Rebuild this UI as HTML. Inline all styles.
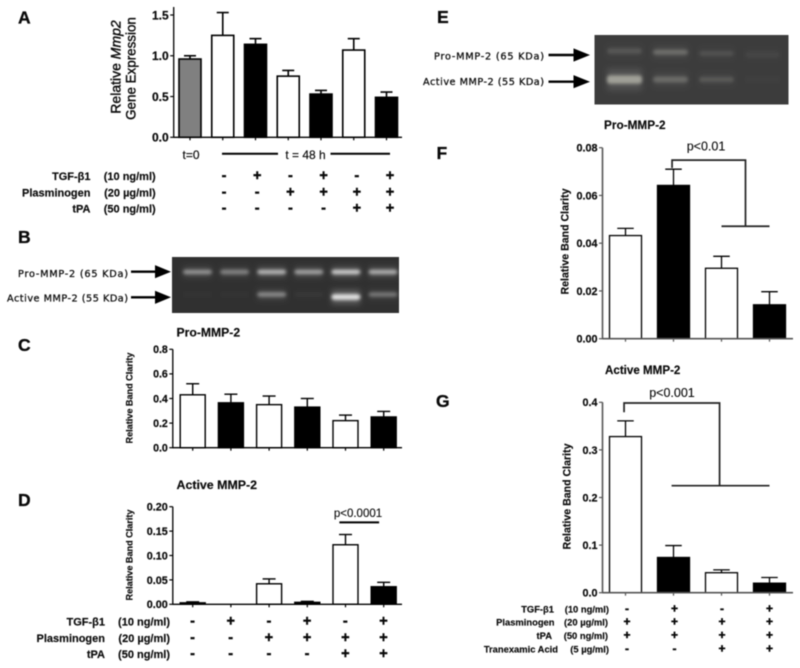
<!DOCTYPE html>
<html lang="en">
<head>
<meta charset="utf-8">
<title>MMP-2 figure panels A–G</title>
<style>
html,body{margin:0;padding:0;background:#fff;}
body{width:800px;height:668px;overflow:hidden;}
svg{display:block;filter:blur(0.4px);}
text{font-family:"Liberation Sans",sans-serif;fill:#0a0a0a;}
.b{font-weight:bold;stroke:#0a0a0a;stroke-width:0.15;}
.panel{font-weight:bold;font-size:17.5px;stroke:#000;stroke-width:0.3;}
.blot{font-family:"DejaVu Sans","Liberation Sans",sans-serif;font-size:9.7px;fill:#111;stroke:#111;stroke-width:0.3;}
</style>
</head>
<body>
<svg id="fig" width="800" height="668" viewBox="0 0 800 668" xmlns="http://www.w3.org/2000/svg">
<defs>
<filter id="soft" x="-30%" y="-150%" width="160%" height="400%"><feGaussianBlur stdDeviation="1.5"/></filter>
<filter id="softer" x="-30%" y="-150%" width="160%" height="400%"><feGaussianBlur stdDeviation="3"/></filter>
<clipPath id="clipB"><rect x="172" y="257" width="227" height="56"/></clipPath>
<clipPath id="clipE"><rect x="594.5" y="35" width="194" height="69.5"/></clipPath>
</defs>

<text class="panel" x="18" y="23.5">A</text>
<text class="panel" x="18" y="243">B</text>
<text class="panel" x="18" y="351">C</text>
<text class="panel" x="18" y="506">D</text>
<text class="panel" x="437" y="23">E</text>
<text class="panel" x="436.5" y="159">F</text>
<text class="panel" x="436" y="407">G</text>

<text class="b" x="176.5" y="336.5" font-size="12.2">Pro-MMP-2</text>
<text class="b" x="176.5" y="489" font-size="12.4">Active MMP-2</text>
<text class="b" x="604" y="129" font-size="11.8">Pro-MMP-2</text>
<text class="b" x="605" y="374" font-size="11.6">Active MMP-2</text>

<text transform="translate(120.5 67) rotate(-90)" text-anchor="middle" font-size="14" stroke="#0a0a0a" stroke-width="0.4">Relative <tspan font-style="italic">Mmp2</tspan></text>
<text transform="translate(135.5 68.5) rotate(-90)" text-anchor="middle" font-size="13.4" stroke="#0a0a0a" stroke-width="0.4">Gene Expression</text>
<text class="b" transform="translate(132.5 398) rotate(-90)" text-anchor="middle" font-size="9.1">Relative Band Clarity</text>
<text class="b" transform="translate(132.5 555) rotate(-90)" text-anchor="middle" font-size="9.1">Relative Band Clarity</text>
<text class="b" transform="translate(568.5 241.5) rotate(-90)" text-anchor="middle" font-size="10.6">Relative Band Clarity</text>
<text class="b" transform="translate(570.5 496.5) rotate(-90)" text-anchor="middle" font-size="10.6">Relative Band Clarity</text>

<text x="191" y="159" text-anchor="middle" font-size="12" stroke="#0a0a0a" stroke-width="0.15">t=0</text>
<line x1="222" y1="153.7" x2="278" y2="153.7" stroke="#000" stroke-width="2"/>
<text x="305.5" y="159" text-anchor="middle" font-size="12" stroke="#0a0a0a" stroke-width="0.15">t = 48 h</text>
<line x1="330.5" y1="153.7" x2="390" y2="153.7" stroke="#000" stroke-width="2"/>

<text class="blot" x="128" y="277" text-anchor="end" textLength="110">Pro-MMP-2 (65 KDa)</text>
<text class="blot" x="128" y="301.5" text-anchor="end" textLength="121">Active MMP-2 (55 KDa)</text>
<text class="blot" x="544" y="59.5" text-anchor="end" textLength="110">Pro-MMP-2 (65 KDa)</text>
<text class="blot" x="544" y="85" text-anchor="end" textLength="121">Active MMP-2 (55 KDa)</text>

<g id="arrows"></g>
<g id="blotB" clip-path="url(#clipB)"></g>
<g id="blotE" clip-path="url(#clipE)"></g>
<g id="charts"></g>
<g id="tables"></g>
</svg>

<script>
// ---------- Chart data ----------
const aCategories = ['t0', 'ctrl', 'tgf', 'plg', 'tgf-plg', 'plg-tpa', 'tgf-plg-tpa'];
const aValues = [0.96, 1.25, 1.14, 0.75, 0.53, 1.07, 0.49];
const aErrors = [0.04, 0.28, 0.07, 0.07, 0.045, 0.14, 0.065];
const aTicks = [0, 0.5, 1.0, 1.5];
const aTickLabels = ['0.0', '0.5', '1.0', '1.5'];

const cCategories = ['ctrl', 'tgf', 'plg', 'tgf-plg', 'plg-tpa', 'tgf-plg-tpa'];
const cValues = [0.43, 0.365, 0.35, 0.33, 0.22, 0.25];
const cErrors = [0.09, 0.07, 0.07, 0.07, 0.045, 0.045];
const cTicks = [0, 0.2, 0.4, 0.6, 0.8];
const cTickLabels = ['0.0', '0.2', '0.4', '0.6', '0.8'];

const dCategories = ['ctrl', 'tgf', 'plg', 'tgf-plg', 'plg-tpa', 'tgf-plg-tpa'];
const dValues = [0.003, 0, 0.042, 0.004, 0.122, 0.036];
const dErrors = [0.002, 0, 0.010, 0.002, 0.021, 0.009];
const dTicks = [0, 0.05, 0.10, 0.15, 0.20];
const dTickLabels = ['0.00', '0.05', '0.10', '0.15', '0.20'];

const fCategories = ['plg-tpa', 'tgf-plg-tpa', 'plg-tpa-txa', 'tgf-plg-tpa-txa'];
const fValues = [0.0432, 0.0642, 0.0295, 0.0142];
const fErrors = [0.003, 0.0068, 0.005, 0.0055];
const fTicks = [0, 0.02, 0.04, 0.06, 0.08];
const fTickLabels = ['0.00', '0.02', '0.04', '0.06', '0.08'];

const gCategories = ['plg-tpa', 'tgf-plg-tpa', 'plg-tpa-txa', 'tgf-plg-tpa-txa'];
const gValues = [0.328, 0.074, 0.042, 0.02];
const gErrors = [0.033, 0.025, 0.006, 0.012];
const gTicks = [0, 0.1, 0.2, 0.3, 0.4];
const gTickLabels = ['0.0', '0.1', '0.2', '0.3', '0.4'];

// Condition tables (+ / -)
const aTgfRow = ['-', '+', '-', '+', '-', '+'];
const aPlgRow = ['-', '-', '+', '+', '+', '+'];
const aTpaRow = ['-', '-', '-', '-', '+', '+'];
const gTgfRow = ['-', '+', '-', '+'];
const gPlgRow = ['+', '+', '+', '+'];
const gTpaRow = ['+', '+', '+', '+'];
const gTxaRow = ['-', '-', '+', '+'];

// Gel band intensities per lane (0..1)
const blotBProBands = [0.5, 0.42, 0.7, 0.58, 0.85, 0.66];
const blotBActiveBands = [0.02, 0.02, 0.45, 0.04, 1.0, 0.36];
const blotEProBands = [0.22, 0.42, 0.16, 0.08];
const blotEActiveBands = [0.9, 0.38, 0.24, 0.03];

// ---------- Helpers ----------
const NS = 'http://www.w3.org/2000/svg';
function make(tag, parent, attrs, txt) {
  const el = document.createElementNS(NS, tag);
  for (const k in attrs) el.setAttribute(k, attrs[k]);
  if (txt !== undefined) el.textContent = txt;
  parent.appendChild(el);
  return el;
}
const chartsRoot = document.getElementById('charts');
const tablesRoot = document.getElementById('tables');
const arrowsRoot = document.getElementById('arrows');

function drawChart(id, categories, values, errors, ticks, tickLabels, cfg) {
  const g = make('g', chartsRoot, {});
  
  
  const yScale = v => cfg.y0 - (v / cfg.yMax) * (cfg.y0 - cfg.yTop);
  const xScale = i => cfg.first + i * cfg.step;

  values.forEach(function (v, i) {
    const cx = xScale(i);
    const top = yScale(v);
    const whiskerTop = yScale(v + errors[i]);
    if (errors[i] > 0) {
      const stem = make('line', g, {x1: cx, x2: cx, y1: top, y2: whiskerTop, stroke: '#000', 'stroke-width': cfg.sw});
      
      
      const cap = make('line', g, {x1: cx - cfg.cap / 2, x2: cx + cfg.cap / 2, y1: whiskerTop, y2: whiskerTop, stroke: '#000', 'stroke-width': cfg.sw});
      
      
    }
    const fill = cfg.fill(i);
    const bar = make('rect', g, {x: cx - cfg.bw / 2, y: top, width: cfg.bw, height: Math.max(0, cfg.y0 - top), fill: fill, stroke: '#000', 'stroke-width': cfg.sw});
    
    
    const tick = make('line', g, {x1: cx, x2: cx, y1: cfg.y0, y2: cfg.y0 + 3, stroke: cfg.axis, 'stroke-width': 1.2});
    
    
  });

  const yAxis = make('line', g, {x1: cfg.x0, x2: cfg.x0, y1: cfg.yTop - cfg.over, y2: cfg.y0 + 0.6, stroke: cfg.axis, 'stroke-width': cfg.axisW});
  
  
  const xAxis = make('line', g, {x1: cfg.x0, x2: cfg.xEnd, y1: cfg.y0, y2: cfg.y0, stroke: cfg.axis, 'stroke-width': cfg.axisW});
  
  

  ticks.forEach(function (t, i) {
    const y = yScale(t);
    const tick = make('line', g, {x1: cfg.x0 - 3.5, x2: cfg.x0, y1: y, y2: y, stroke: cfg.axis, 'stroke-width': 1.2});
    
    
    const lbl = make('text', g, {x: cfg.x0 - 5, y: y + cfg.font * 0.36, 'text-anchor': 'end', 'font-size': cfg.font, 'font-weight': 'bold', stroke: '#0a0a0a', 'stroke-width': 0.2}, tickLabels[i]);
    
    
  });

  return {g: g, xScale: xScale, yScale: yScale};
}

function blackOdd(i) { return i % 2 === 0 ? '#fff' : '#000'; }

// ---------- Panel A ----------
drawChart('a', aCategories, aValues, aErrors, aTicks, aTickLabels, {
  x0: 173.7, xEnd: 402, y0: 137.3, yTop: 15, yMax: 1.5, over: 8, first: 190, step: 32.75, bw: 22, cap: 12,
  sw: 1.6, axis: '#000', axisW: 1.3, font: 12,
  fill: function (i) { return i === 0 ? '#808080' : (i % 2 === 1 ? '#fff' : '#000'); }
});

// ---------- Panel C ----------
drawChart('c', cCategories, cValues, cErrors, cTicks, cTickLabels, {
  x0: 172.8, xEnd: 402, y0: 447.7, yTop: 349.3, yMax: 0.8, over: 0, first: 192.7, step: 38.2, bw: 25, cap: 13,
  sw: 1.4, axis: '#000', axisW: 1.3, font: 10.6, fill: blackOdd
});

// ---------- Panel D ----------
const chartD = drawChart('d', dCategories, dValues, dErrors, dTicks, dTickLabels, {
  x0: 172.8, xEnd: 402, y0: 604.3, yTop: 506.7, yMax: 0.2, over: 0, first: 192.7, step: 38.2, bw: 25, cap: 13,
  sw: 1.4, axis: '#000', axisW: 1.3, font: 10.8, fill: blackOdd
});
const sigD = make('line', chartD.g, {x1: chartD.xScale(3.84), x2: chartD.xScale(4.88), y1: chartD.yScale(0.168), y2: chartD.yScale(0.168), stroke: '#000', 'stroke-width': 2});


const sigDText = make('text', chartD.g, {x: 358, y: 517, 'text-anchor': 'middle', 'font-size': 11.5, stroke: '#0a0a0a', 'stroke-width': 0.12}, 'p<0.0001');



// ---------- Panel F ----------
const chartF = drawChart('f', fCategories, fValues, fErrors, fTicks, fTickLabels, {
  x0: 602.5, xEnd: 793, y0: 338.7, yTop: 147.7, yMax: 0.08, over: 0, first: 625.5, step: 48, bw: 32, cap: 16.5,
  sw: 1.3, axis: '#555', axisW: 1.6, font: 10.8, fill: blackOdd
});
function bracketPath(c, pts) {
  return pts.map(function (p, i) { return (i ? 'L' : 'M') + c.xScale(p[0]) + ' ' + c.yScale(p[1]); }).join(' ');
}
const bracketF = make('path', chartF.g, {d: bracketPath(chartF, [[0.97, 0.0715], [0.97, 0.0748], [2.5, 0.0748], [2.5, 0.0471]]), fill: 'none', stroke: '#222', 'stroke-width': 1.7});


const baseF = make('line', chartF.g, {x1: chartF.xScale(2), x2: chartF.xScale(3), y1: chartF.yScale(0.0471), y2: chartF.yScale(0.0471), stroke: '#222', 'stroke-width': 1.7});


const sigFText = make('text', chartF.g, {x: 706, y: 150.5, 'text-anchor': 'middle', 'font-size': 12.5, stroke: '#0a0a0a', 'stroke-width': 0.12}, 'p<0.01');



// ---------- Panel G ----------
const chartG = drawChart('g', gCategories, gValues, gErrors, gTicks, gTickLabels, {
  x0: 602.5, xEnd: 793, y0: 592.7, yTop: 402.3, yMax: 0.4, over: 0, first: 625.5, step: 48, bw: 32, cap: 16.5,
  sw: 1.3, axis: '#555', axisW: 1.6, font: 10.8, fill: blackOdd
});
const bracketG = make('path', chartG.g, {d: bracketPath(chartG, [[-0.03, 0.379], [-0.03, 0.3985], [1.96, 0.3985], [1.96, 0.2248]]), fill: 'none', stroke: '#222', 'stroke-width': 1.7});


const baseG = make('line', chartG.g, {x1: chartG.xScale(0.96), x2: chartG.xScale(3), y1: chartG.yScale(0.2248), y2: chartG.yScale(0.2248), stroke: '#222', 'stroke-width': 1.7});


const sigGText = make('text', chartG.g, {x: 672, y: 397, 'text-anchor': 'middle', 'font-size': 12.5, stroke: '#0a0a0a', 'stroke-width': 0.12}, 'p<0.001');



// ---------- Condition tables ----------
function drawSignRow(id, name, dose, signs, cfg) {
  const nameEl = make('text', tablesRoot, {x: cfg.nameX, y: cfg.y, 'text-anchor': 'end', 'font-size': cfg.font, 'font-weight': 'bold', stroke: '#0a0a0a', 'stroke-width': 0.15}, name);
  
  
  const doseEl = make('text', tablesRoot, {x: cfg.doseX, y: cfg.y, 'text-anchor': 'end', 'font-size': cfg.font, 'font-weight': 'bold', stroke: '#0a0a0a', 'stroke-width': 0.15}, dose);
  
  
  signs.forEach(function (s, i) {
    const el = make('text', tablesRoot, {x: cfg.first + i * cfg.step, y: cfg.y + cfg.signDy, 'text-anchor': 'middle', 'font-size': cfg.signFont, 'font-weight': 'bold', stroke: '#000', 'stroke-width': 0.4}, s);
    
    
  });
}
const aTable = {nameX: 90.5, doseX: 155.7, font: 11, first: 224, step: 33.2, signFont: 14.5, signDy: 0};
drawSignRow('a-tgf', 'TGF-β1', '(10 ng/ml)', aTgfRow, Object.assign({y: 180}, aTable));
drawSignRow('a-plg', 'Plasminogen', '(20 µg/ml)', aPlgRow, Object.assign({y: 196.5}, aTable));
drawSignRow('a-tpa', 'tPA', '(50 ng/ml)', aTpaRow, Object.assign({y: 212.7}, aTable));

const dTable = {nameX: 105, doseX: 170, font: 11, first: 192.5, step: 38.2, signFont: 14.5, signDy: 0};
drawSignRow('d-tgf', 'TGF-β1', '(10 ng/ml)', aTgfRow, Object.assign({y: 625.7}, dTable));
drawSignRow('d-plg', 'Plasminogen', '(20 µg/ml)', aPlgRow, Object.assign({y: 642}, dTable));
drawSignRow('d-tpa', 'tPA', '(50 ng/ml)', aTpaRow, Object.assign({y: 658}, dTable));

const gTable = {font: 9.4, first: 627, step: 47.5, signFont: 12, signDy: 0};
drawSignRow('g-tgf', 'TGF-β1', '(10 ng/ml)', gTgfRow, Object.assign({y: 612.3, nameX: 554, doseX: 609}, gTable));
drawSignRow('g-plg', 'Plasminogen', '(20 µg/ml)', gPlgRow, Object.assign({y: 625.7, nameX: 554.5, doseX: 608}, gTable));
drawSignRow('g-tpa', 'tPA', '(50 ng/ml)', gTpaRow, Object.assign({y: 639, nameX: 552, doseX: 608}, gTable));
drawSignRow('g-txa', 'Tranexamic Acid', '(5 µg/ml)', gTxaRow, Object.assign({y: 652.3, nameX: 558, doseX: 609}, gTable));

// ---------- Gel blots ----------
function drawBlot(root, id, cfg, proBands, activeBands) {
  const bg = make('rect', root, {x: cfg.x, y: cfg.y, width: cfg.w, height: cfg.h, fill: cfg.bg});
  
  
  function band(kind, i, amt, yc, rh) {
    const lane = cfg.laneX + i * cfg.laneStep;
    const halo = make('rect', root, {x: lane, y: yc - rh * 2.6, width: cfg.laneW, height: rh * 5.2, fill: '#fff', 'fill-opacity': amt * cfg.halo, filter: 'url(#softer)'});
    
    
    const b = make('rect', root, {x: lane, y: yc - rh, width: cfg.laneW, height: rh * 2, rx: 3, fill: cfg.band, 'fill-opacity': Math.min(1, amt), filter: 'url(#soft)'});
    
    
  }
  proBands.forEach(function (a, i) { band('pro', i, a, cfg.proY + i * cfg.proSlope, cfg.proH); });
  activeBands.forEach(function (a, i) { band('active', i, a, cfg.activeY - (a > 0.9 && id === 'b' ? -2.5 : 0), cfg.activeH + a * cfg.activeGrow); });
}
drawBlot(document.getElementById('blotB'), 'b', {
  x: 172, y: 257, w: 227, h: 56, bg: '#303030', band: '#e0e0e0', halo: 0.2,
  laneX: 183, laneStep: 37.1, laneW: 29, proY: 272, proSlope: 0, proH: 2.2, activeY: 294.5, activeH: 1.7, activeGrow: 1.2
}, blotBProBands, blotBActiveBands);
drawBlot(document.getElementById('blotE'), 'e', {
  x: 594.5, y: 35, w: 194, h: 69.5, bg: '#3c3c3c', band: '#a8a8a0', halo: 0.12,
  laneX: 607, laneStep: 46, laneW: 35, proY: 51, proSlope: 1.2, proH: 2.6, activeY: 79.5, activeH: 2, activeGrow: 2.5
}, blotEProBands, blotEActiveBands);

// ---------- Arrows ----------
function drawArrow(id, x1, xNeck, xTip, y) {
  const shaft = make('line', arrowsRoot, {x1: x1, x2: xNeck + 1, y1: y, y2: y, stroke: '#000', 'stroke-width': 2.4});
  
  
  const head = make('polygon', arrowsRoot, {points: xNeck + ',' + (y - 6.6) + ' ' + xTip + ',' + y + ' ' + xNeck + ',' + (y + 6.6), fill: '#000'});
  
  
}
drawArrow('b-pro', 131, 155, 171, 271.7);
drawArrow('b-active', 131, 155, 171, 297.3);
drawArrow('e-pro', 548.5, 573.5, 590, 55);
drawArrow('e-active', 548.5, 573.5, 590, 81.7);
</script>
</body>
</html>
